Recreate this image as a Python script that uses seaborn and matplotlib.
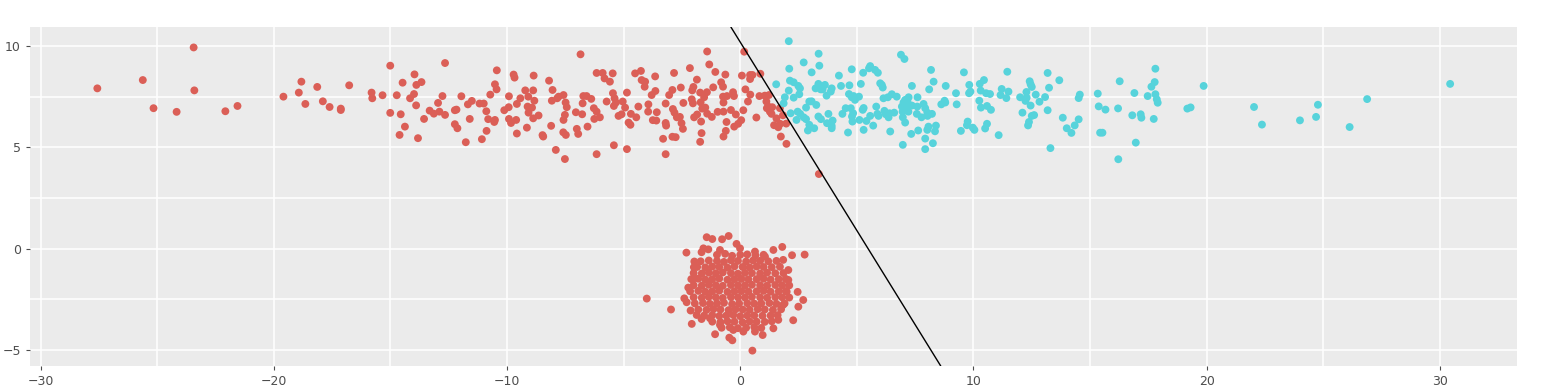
import numpy as np
import pandas as pd
import seaborn as sns
import matplotlib.pyplot as plt
from matplotlib.ticker import MultipleLocator

# upper red group (class 0) left to right
red_top_x = [
    -27.57, -25.62, -25.16, -24.17, -23.44, -23.41, -22.08, -21.56, -19.59,
    -18.82, -18.93, -18.65, -18.14, -17.90, -17.61, -17.13, -17.13, -16.77, -15.81,
    -15.78, -15.34, -15.01, -15.01, -14.73, -14.56, -14.48, -14.38, -14.61, -14.16,
    -13.97, -13.99, -13.90, -13.89, -13.67, -13.82, -13.56, -13.32, -13.14, -12.96,
    -12.90, -12.77, -12.66, -12.66, -12.24, -12.17, -12.24, -12.13, -11.96, -11.77,
    -11.68, -11.51, -11.60, -11.18, -11.00, -10.89, -10.81, -10.72, -11.08, -10.88,
    -10.55, -10.52, -10.52, -10.45, -10.44, -10.12, -9.93, -9.92, -9.92, -9.83,
    -9.72, -9.68, -9.58, -9.61, -9.58, -9.43, -9.22, -9.09, -9.12, -9.08, -9.15,
    -8.88, -8.86, -8.83, -8.93, -8.88, -8.65, -8.48, -8.45, -8.20, -8.05,
    -8.08, -7.91, -8.11, -7.85, -7.79, -7.58, -7.49, -7.44, -7.52, -7.58,
    -7.59, -7.48, -7.52, -7.05, -7.01, -6.95, -6.85, -6.78, -6.73, -6.76,
    -6.59, -6.39, -6.55, -6.28, -6.26, -6.16, -6.16, -6.02, -6.16, -5.90,
    -5.82, -5.73, -5.59, -5.47, -5.46, -5.39, -5.42, -5.42, -5.33, -5.22,
    -5.09, -5.04, -4.94, -4.86, -4.86, -4.79, -4.71, -4.69, -4.46, -4.37,
    -4.51, -4.26, -4.23, -4.10, -4.08, -3.94, -3.95, -3.80, -3.65, -3.64,
    -3.75, -3.60, -3.58, -3.31, -3.20, -3.20, -3.18, -3.05, -2.91, -2.84,
    -2.89, -2.82, -2.77, -2.91, -3.20, -2.72, -2.59, -2.55, -2.52, -2.46,
    -2.44, -2.16, -2.06, -2.08, -2.03, -1.98, -2.01, -1.86, -1.85, -1.72,
    -1.70, -1.68, -1.66, -1.72, -1.63, -1.50, -1.55, -1.43, -1.42, -1.33,
    -1.42, -1.22, -1.16, -1.07, -0.97, -0.82, -0.74, -0.74, -0.72, -0.72,
    -0.64, -0.57, -0.59, -0.62, -0.72, -0.40, -0.31, -0.27, -0.26, -0.19,
    -0.09, 0.04, 0.07, 0.17, 0.22, 0.33, 0.42, 0.42, 0.52, 0.43,
    0.13, 0.69, 0.82, 0.86,
    1.05, 1.23, 1.12, 1.20, 1.14, 1.27, 1.37, 1.34, 1.55, 1.70,
    1.83, 1.45, 1.63, 1.71, 1.97, 1.74, 1.98, 3.37,
]
red_top_y = [
    7.92, 8.33, 6.94, 6.76, 9.94, 7.82, 6.79, 7.05, 7.51,
    8.25, 7.71, 7.15, 7.99, 7.28, 7.00, 6.92, 6.85, 8.07, 7.71,
    7.43, 7.58, 9.04, 6.71, 7.58, 6.64, 8.20, 6.03, 5.62, 7.43,
    8.61, 7.64, 7.08, 8.09, 8.23, 5.46, 6.41, 6.82, 6.67, 7.20,
    6.77, 7.54, 9.17, 6.61, 6.84, 6.87, 6.15, 5.95, 7.53, 5.26,
    7.13, 7.30, 6.41, 7.17, 7.17, 6.79, 6.40, 7.61, 5.41, 5.82,
    6.26, 6.36, 8.12, 7.87, 8.81, 6.84, 6.99, 7.53, 6.41, 6.21,
    8.60, 8.45, 7.15, 6.36, 5.69, 7.43, 7.82, 7.51, 7.02, 6.72, 5.98,
    7.82, 8.55, 7.31, 6.97, 6.44, 6.58, 5.61, 5.54, 8.30, 7.84,
    7.31, 4.88, 6.07, 7.43, 7.51, 7.59, 7.22, 6.99, 6.61, 6.36,
    5.75, 5.62, 4.43, 6.74, 5.92, 5.67, 9.60, 6.64, 7.54, 7.18,
    7.54, 7.40, 6.03, 6.94, 6.41, 6.77, 4.67, 6.49, 8.68, 8.68,
    8.41, 7.27, 8.25, 8.66, 7.68, 7.43, 7.05, 5.11, 7.22, 6.56,
    6.64, 7.27, 6.97, 7.71, 4.92, 6.23, 6.12, 6.66, 6.49, 7.02,
    8.66, 8.78, 8.33, 8.00, 8.25, 7.13, 6.77, 7.59, 8.51, 7.79,
    6.35, 6.33, 6.74, 5.43, 7.17, 6.21, 6.08, 7.59, 7.84, 8.68,
    6.90, 6.72, 5.51, 5.53, 4.67, 6.49, 6.51, 7.96, 6.20, 5.92,
    7.20, 8.92, 7.82, 7.38, 7.18, 6.49, 7.99, 8.35, 6.63, 7.71,
    7.23, 6.28, 5.71, 5.28, 6.92, 6.97, 7.48, 7.73, 9.74, 9.10,
    6.67, 6.51, 7.97, 8.73, 6.76, 8.22, 8.00, 7.51, 6.77, 7.22,
    8.60, 7.54, 6.26, 5.82, 5.54, 6.85, 7.73, 7.54, 6.03, 6.63,
    6.17, 6.35, 8.55, 9.73, 7.87, 7.27, 8.58, 8.38, 8.58, 7.61,
    6.84, 6.48, 7.54, 8.64,
    7.56, 7.59, 7.27, 7.02, 6.94, 6.77, 6.99, 6.66, 6.44, 6.94,
    6.59, 6.10, 6.00, 6.17, 6.18, 5.54, 5.18, 3.69,
]

# lower red blob (class 0): outer points first, then the dense core
red_blob_x = [
    -4.01, -2.97, -2.31, -2.08, -1.44, -1.20, -0.78, -0.50, -0.16, 1.80,
    2.22, 2.76, 2.70, 2.49, 2.46, 2.27, 0.52, -1.08, -0.47, -0.34,
    0.96, -2.23, -2.40, -2.30, -2.13, -1.87, -1.66, -1.98, -1.99, -1.97,
    -1.66, -1.58, -1.37, -0.87,
    2.06, 2.06, 1.99, 1.84, 1.63, 1.42, 0.63, 0.13, -0.30, -0.87,
    -1.30, 1.42, 1.84, 1.06, 0.63, -0.01,
    -1.0, -0.65, -0.35, 0.0, 0.3, 0.65, 1.0,
    -1.7, -1.35, -1.0, -0.7, -0.4, -0.1, 0.25, 0.55, 0.85, 1.2, 1.55,
    -1.85, -1.5, -1.2, -0.9, -0.55, -0.25, 0.1, 0.4, 0.7, 1.0, 1.35, 1.7,
    -2.0, -1.65, -1.35, -1.05, -0.75, -0.4, -0.1, 0.2, 0.5, 0.85, 1.15, 1.5, 1.85,
    -2.1, -1.8, -1.5, -1.2, -0.9, -0.55, -0.25, 0.05, 0.35, 0.7, 1.0, 1.3, 1.65, 1.95,
    -2.0, -1.65, -1.35, -1.05, -0.75, -0.4, -0.1, 0.2, 0.5, 0.85, 1.15, 1.5, 1.8, 2.1,
    -2.15, -1.8, -1.5, -1.2, -0.9, -0.55, -0.25, 0.05, 0.35, 0.7, 1.0, 1.3, 1.65, 1.95,
    -2.0, -1.65, -1.35, -1.05, -0.75, -0.4, -0.1, 0.2, 0.5, 0.85, 1.15, 1.5, 1.8, 2.1,
    -1.95, -1.6, -1.3, -1.0, -0.7, -0.35, -0.05, 0.3, 0.6, 0.9, 1.25, 1.55, 1.9,
    -1.8, -1.45, -1.15, -0.85, -0.5, -0.2, 0.1, 0.4, 0.75, 1.05, 1.4, 1.75,
    -1.55, -1.2, -0.9, -0.6, -0.3, 0.0, 0.3, 0.6, 0.95, 1.3, 1.6,
    -1.2, -0.85, -0.55, -0.25, 0.1, 0.4, 0.7, 1.05, 1.35,
    -0.8, -0.45, -0.1, 0.25, 0.6, 0.9,
]
red_blob_y = [
    -2.46, -3.00, -0.19, -3.71, 0.57, 0.48, 0.47, 0.63, 0.24, 0.09,
    -0.32, -0.29, -2.53, -2.86, -2.13, -3.53, -5.03, -4.22, -4.39, -4.52,
    -4.26, -1.92, -2.45, -2.64, -3.05, -3.27, -3.47, -1.46, -0.91, -0.63,
    -0.17, 0.02, -0.03, -0.06,
    -1.05, -1.54, -2.12, -2.77, -3.51, -3.93, -4.09, -4.09, -4.01, -3.76,
    -3.43, -0.06, -0.55, -0.39, -0.14, 0.02,
    -0.30, -0.25, -0.35, -0.30, -0.28, -0.33, -0.30,
    -0.62, -0.58, -0.60, -0.65, -0.57, -0.60, -0.63, -0.58, -0.60, -0.62, -0.60,
    -0.90, -0.92, -0.88, -0.90, -0.93, -0.87, -0.90, -0.92, -0.88, -0.90, -0.91, -0.89,
    -1.20, -1.22, -1.18, -1.21, -1.17, -1.20, -1.23, -1.19, -1.20, -1.22, -1.18, -1.21, -1.20,
    -1.50, -1.48, -1.52, -1.50, -1.47, -1.53, -1.50, -1.49, -1.51, -1.50, -1.48, -1.52, -1.50, -1.49,
    -1.80, -1.82, -1.78, -1.80, -1.83, -1.79, -1.80, -1.81, -1.78, -1.80, -1.82, -1.79, -1.80, -1.81,
    -2.10, -2.08, -2.12, -2.10, -2.07, -2.13, -2.10, -2.09, -2.11, -2.10, -2.08, -2.12, -2.10, -2.09,
    -2.40, -2.42, -2.38, -2.40, -2.43, -2.39, -2.40, -2.41, -2.38, -2.40, -2.42, -2.39, -2.40, -2.41,
    -2.70, -2.68, -2.72, -2.70, -2.67, -2.73, -2.70, -2.69, -2.71, -2.70, -2.68, -2.72, -2.70,
    -3.00, -3.02, -2.98, -3.00, -3.03, -2.99, -3.00, -3.01, -2.98, -3.00, -3.02, -2.99,
    -3.30, -3.28, -3.32, -3.30, -3.27, -3.33, -3.30, -3.29, -3.31, -3.30, -3.28,
    -3.60, -3.62, -3.58, -3.60, -3.63, -3.59, -3.60, -3.61, -3.58,
    -3.90, -3.88, -3.92, -3.90, -3.87, -3.91,
]

# cyan group (class 1)
cyan_x = [
    2.08, 3.36, 2.72, 2.10, 3.06, 3.39, 1.54, 2.13, 2.29, 2.49,
    2.56, 2.08, 3.35, 3.23, 3.45, 3.63, 3.53, 3.92, 3.88, 3.70,
    4.23, 4.32, 4.68, 4.78, 5.17, 5.27, 5.57, 5.52, 5.78, 5.90,
    6.00, 6.11, 6.07, 6.89, 7.04, 7.36, 8.18, 8.29, 8.10, 8.81,
    9.59, 9.82, 9.87, 9.81, 10.27, 10.45, 10.31, 10.54, 10.71, 11.16,
    9.25, 9.28, 1.91, 2.29, 1.86, 2.53, 2.96, 3.06, 3.26, 2.82,
    2.46, 2.57, 2.72, 2.82, 2.41, 2.16, 2.96, 2.90, 3.17, 3.35,
    3.46, 3.78, 3.72, 3.92, 3.96, 3.92, 4.66, 4.78, 4.86, 4.92,
    5.09, 4.52, 4.74, 4.38, 4.84, 4.79, 4.81, 5.11, 5.29, 5.25,
    5.57, 5.41, 5.70, 4.62, 5.29, 5.83, 5.88, 5.93, 6.14, 6.33,
    6.50, 6.71, 6.18, 6.24, 6.40, 6.36, 6.60, 6.43, 7.00, 7.07,
    7.22, 7.17, 6.93, 7.10, 6.96, 7.21, 7.36, 7.60, 7.59, 7.57,
    7.86, 7.93, 8.02, 8.22, 6.97, 7.07, 7.77, 8.03, 7.33, 7.63,
    8.02, 8.07, 8.39, 8.35, 7.93, 8.26, 7.93, 6.97, 8.62, 8.76,
    8.79, 9.46, 9.75, 9.72, 9.97, 10.04, 10.50, 10.58, 10.25, 10.32,
    10.58, 10.75, 11.08,
    11.45, 13.18, 13.68, 11.21, 11.50, 11.41, 12.41, 12.45, 12.50, 12.27,
    12.28, 12.23, 12.00, 12.67, 13.07, 13.24, 12.83, 12.45, 12.10, 12.50,
    12.60, 12.38, 12.34, 13.18, 13.83, 14.00, 14.20, 14.34, 14.51, 14.56,
    14.51, 13.30, 15.33, 15.37, 15.66, 15.43, 15.53, 16.20, 16.27, 16.21,
    16.81, 16.90, 16.96, 17.17, 17.20, 17.47, 17.63, 17.80, 17.77, 17.80,
    17.86, 17.90, 17.73, 19.17, 19.31, 19.87, 22.03,
    22.37, 24.00, 24.69, 24.77, 26.13, 26.88, 30.44,
]
cyan_y = [
    10.25, 9.63, 9.20, 8.89, 8.71, 9.04, 8.12, 8.30, 8.22, 8.04,
    7.92, 7.81, 8.14, 7.92, 7.87, 8.09, 7.87, 7.92, 7.76, 7.56,
    8.55, 8.04, 8.07, 8.86, 8.14, 8.69, 9.02, 8.91, 8.83, 8.69,
    8.17, 7.96, 8.09, 9.58, 9.37, 8.04, 8.83, 8.25, 7.87, 8.04,
    8.71, 8.09, 7.76, 7.68, 8.14, 8.33, 7.81, 7.68, 7.64, 7.59,
    7.68, 7.13, 7.48, 7.46, 7.18, 7.63, 7.27, 7.28, 7.10, 6.97,
    6.77, 6.66, 6.49, 6.40, 6.36, 6.69, 6.12, 5.84, 5.95, 6.53,
    6.40, 6.66, 6.20, 6.07, 6.33, 5.95, 7.64, 7.48, 7.54, 7.35,
    7.51, 6.94, 6.94, 6.66, 6.69, 6.53, 6.28, 6.36, 6.95, 6.86,
    6.56, 6.31, 6.08, 5.74, 5.87, 7.02, 6.66, 6.56, 7.43, 7.48,
    7.63, 7.51, 6.81, 6.64, 6.69, 6.49, 6.72, 5.79, 7.22, 7.35,
    7.48, 7.27, 7.02, 6.94, 6.77, 6.77, 7.07, 7.48, 7.02, 6.66,
    7.15, 6.94, 6.72, 6.66, 6.49, 6.23, 6.49, 6.56, 5.67, 5.84,
    5.87, 6.03, 6.08, 5.80, 5.44, 5.21, 4.92, 5.13, 7.13, 7.31,
    7.22, 5.82, 6.28, 6.10, 5.98, 5.87, 5.94, 6.17, 7.31, 6.97,
    7.05, 6.86, 5.61,
    8.74, 8.68, 8.32, 7.89, 7.76, 7.44, 8.27, 8.12, 7.99, 7.74,
    7.46, 7.30, 7.48, 7.61, 7.49, 7.95, 7.26, 7.07, 6.72, 6.56,
    6.60, 6.26, 6.09, 6.84, 6.47, 5.95, 5.72, 6.09, 6.39, 7.61,
    7.44, 4.97, 7.66, 7.03, 6.87, 5.73, 5.73, 6.93, 8.27, 4.42,
    6.59, 7.69, 5.24, 6.64, 6.47, 7.54, 8.00, 8.89, 8.23, 7.63,
    7.38, 7.21, 6.41, 6.92, 6.98, 8.04, 7.00,
    6.13, 6.34, 6.51, 7.11, 6.01, 7.39, 8.14,
]

# separating line y = intercept + slope * x
boundary_intercept = 10.2
boundary_slope = -1.86

red_x = red_top_x + red_blob_x
red_y = red_top_y + red_blob_y
df = pd.DataFrame({
    "x": red_x + cyan_x,
    "y": red_y + cyan_y,
    "cls": [0] * len(red_x) + [1] * len(cyan_x),
})

sns.set_theme(style="darkgrid", rc={
    "axes.facecolor": "#EBEBEB",
    "grid.color": "white",
    "xtick.bottom": True,
    "ytick.left": True,
    "xtick.color": "#4D4D4D",
    "ytick.color": "#4D4D4D",
    "xtick.labelcolor": "#4D4D4D",
    "ytick.labelcolor": "#4D4D4D",
})
plt.rcParams["font.family"] = ["DejaVu Sans"]

fig, ax = plt.subplots(figsize=(15.43, 3.9), dpi=100)
fig.subplots_adjust(left=0.0194, right=0.9832, bottom=0.0615, top=0.9308)

# punti senza bordo bianco, come nel riferimento
sns.scatterplot(data=df, x="x", y="y", hue="cls", palette="hls", s=32,
                linewidth=0, legend=False, ax=ax)
ax.axline((0, boundary_intercept), slope=boundary_slope, color="black", lw=1)

ax.set_xlim(-30.46, 33.31)
ax.set_ylim(-5.79, 10.95)
ax.set_xticks(range(-30, 31, 10))
ax.set_yticks([-5, 0, 5, 10])
ax.xaxis.set_minor_locator(MultipleLocator(5))
ax.yaxis.set_minor_locator(MultipleLocator(2.5))
ax.grid(which="major", color="white", lw=1.1)
ax.grid(which="minor", color="white", lw=1.1)
ax.tick_params(which="major", length=3, width=0.8, labelsize=9)
ax.tick_params(which="minor", length=0)
ax.set_xlabel("")
ax.set_ylabel("")
for s in ax.spines.values():
    s.set_visible(False)

fig.savefig("out.png", dpi=100)
